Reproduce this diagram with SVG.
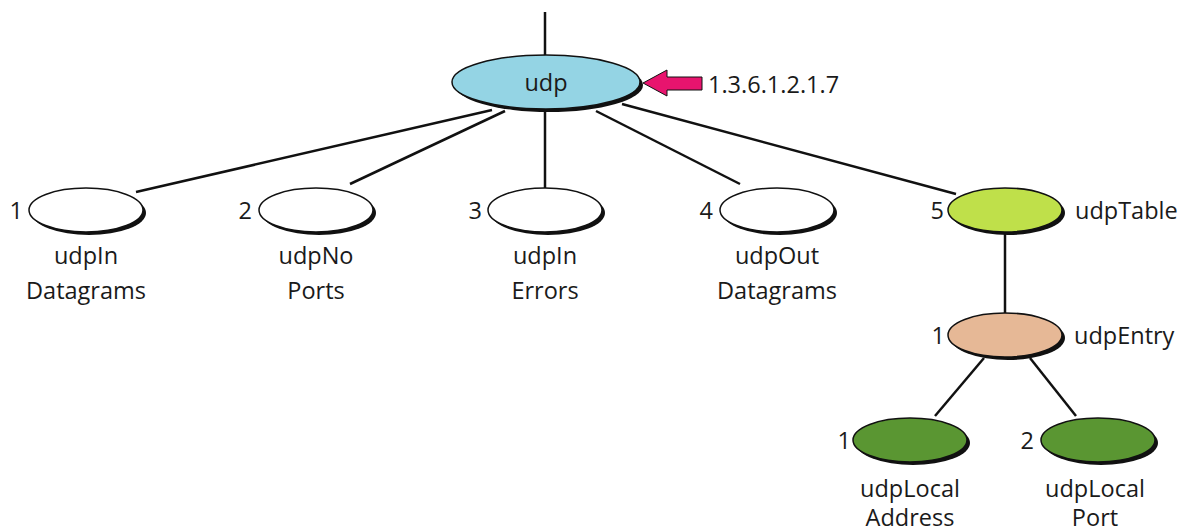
<svg xmlns="http://www.w3.org/2000/svg" width="1189" height="532" viewBox="0 0 1189 532">
  <style>
    .edge { stroke: #111; stroke-width: 2.5; fill: none; }
    .shadow { fill: #111; }
    .node { stroke: #111; stroke-width: 1.5; }
    text { font-family: "Open Sans", "Liberation Sans", sans-serif; font-size: 23.5px; fill: #1a1a1a; }
    .mid { text-anchor: middle; }
    .end { text-anchor: end; }
  </style>

  <g id="connectors">
    <line class="edge" x1="545" y1="12" x2="545" y2="56"/>
    <line class="edge" x1="492" y1="110" x2="136" y2="192"/>
    <line class="edge" x1="505" y1="111" x2="350" y2="184"/>
    <line class="edge" x1="545" y1="110" x2="545" y2="188"/>
    <line class="edge" x1="596" y1="111" x2="740" y2="184"/>
    <line class="edge" x1="622" y1="104" x2="956" y2="194"/>
    <line class="edge" x1="1005" y1="232" x2="1005" y2="313"/>
    <line class="edge" x1="984" y1="358" x2="935" y2="416"/>
    <line class="edge" x1="1030" y1="358" x2="1076" y2="416"/>
  </g>

  <g id="arrow">
    <polygon fill="#e8146e" stroke="#111" stroke-width="1" points="643,83 667,70 667,77 702,77 702,90 667,90 667,96"/>
    <text x="708" y="93">1.3.6.1.2.1.7</text>
  </g>

  <g id="udp">
    <ellipse class="shadow" cx="549" cy="85" rx="94" ry="27"/>
    <ellipse class="node" cx="546" cy="82" rx="94" ry="27" fill="#94d4e4"/>
    <text class="mid" x="546" y="91">udp</text>
  </g>

  <g id="udpInDatagrams">
    <ellipse class="shadow" cx="89" cy="213" rx="57" ry="22"/>
    <ellipse class="node" cx="86" cy="210" rx="57" ry="22" fill="#fff"/>
    <text class="end" x="23" y="219">1</text>
    <text class="mid" x="86" y="264">udpIn</text>
    <text class="mid" x="86" y="299">Datagrams</text>
  </g>

  <g id="udpNoPorts">
    <ellipse class="shadow" cx="319" cy="213" rx="57" ry="22"/>
    <ellipse class="node" cx="316" cy="210" rx="57" ry="22" fill="#fff"/>
    <text class="end" x="252" y="219">2</text>
    <text class="mid" x="316" y="264">udpNo</text>
    <text class="mid" x="316" y="299">Ports</text>
  </g>

  <g id="udpInErrors">
    <ellipse class="shadow" cx="548" cy="213" rx="57" ry="22"/>
    <ellipse class="node" cx="545" cy="210" rx="57" ry="22" fill="#fff"/>
    <text class="end" x="482" y="219">3</text>
    <text class="mid" x="545" y="264">udpIn</text>
    <text class="mid" x="545" y="299">Errors</text>
  </g>

  <g id="udpOutDatagrams">
    <ellipse class="shadow" cx="780" cy="213" rx="57" ry="22"/>
    <ellipse class="node" cx="777" cy="210" rx="57" ry="22" fill="#fff"/>
    <text class="end" x="713" y="219">4</text>
    <text class="mid" x="777" y="264">udpOut</text>
    <text class="mid" x="777" y="299">Datagrams</text>
  </g>

  <g id="udpTable">
    <ellipse class="shadow" cx="1008" cy="213" rx="57" ry="22"/>
    <ellipse class="node" cx="1005" cy="210" rx="57" ry="22" fill="#bfe04a"/>
    <text class="end" x="944" y="219">5</text>
    <text x="1075" y="219">udpTable</text>
  </g>

  <g id="udpEntry">
    <ellipse class="shadow" cx="1008" cy="338" rx="57" ry="22"/>
    <ellipse class="node" cx="1005" cy="335" rx="57" ry="22" fill="#e6b896"/>
    <text class="end" x="945" y="344">1</text>
    <text x="1074" y="344">udpEntry</text>
  </g>

  <g id="udpLocalAddress">
    <ellipse class="shadow" cx="913" cy="443" rx="57" ry="22"/>
    <ellipse class="node" cx="910" cy="440" rx="57" ry="22" fill="#5a9632"/>
    <text class="end" x="851" y="449">1</text>
    <text class="mid" x="910" y="497">udpLocal</text>
    <text class="mid" x="910" y="526">Address</text>
  </g>

  <g id="udpLocalPort">
    <ellipse class="shadow" cx="1101" cy="443" rx="57" ry="22"/>
    <ellipse class="node" cx="1098" cy="440" rx="57" ry="22" fill="#5a9632"/>
    <text class="end" x="1034" y="449">2</text>
    <text class="mid" x="1095" y="497">udpLocal</text>
    <text class="mid" x="1095" y="526">Port</text>
  </g>
</svg>
